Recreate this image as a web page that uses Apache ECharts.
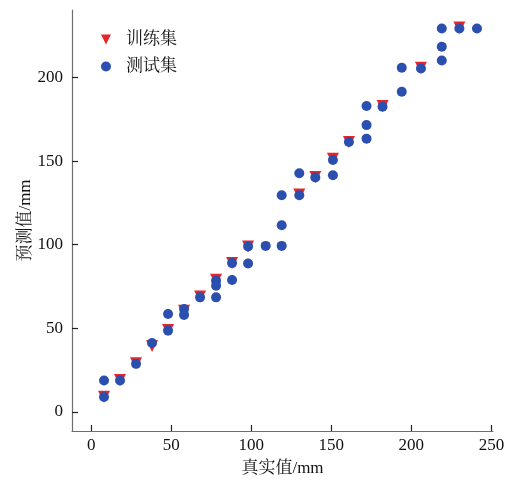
<!DOCTYPE html>
<html>
<head>
<meta charset="utf-8">
<script src="https://cdn.jsdelivr.net/npm/echarts@6/dist/echarts.min.js"></script>
<style>
  html, body { margin: 0; padding: 0; background: #fff; }
  #chart { width: 509px; height: 482px; }
</style>
</head>
<body>
<div id="chart"></div>
<script>
// Series names
const trainName = '训练集';
const testName = '测试集';

// Training set: measured (x) and predicted (y), mm
const trainX = [8, 18, 28, 38, 48, 58, 68, 78, 88, 98, 130, 140, 151, 161, 182, 206, 230];
const trainY = [9, 19, 29, 39.4, 49, 60.5, 69, 79, 89, 99, 130, 140.5, 151.5, 161.5, 183, 206, 230];

// Test set: measured (x) and predicted (y), mm
const testX = [8, 8, 18, 28, 38, 48, 48, 58, 58, 68, 78, 78, 78, 88, 88, 98, 98,
               109, 119, 119, 119, 130, 130, 140, 151, 151, 161, 172, 172, 172,
               182, 194, 194, 206, 219, 219, 219, 230, 241];
const testY = [18.7, 8.8, 18.7, 28.7, 41.2, 48.6, 58.5, 61.5, 58, 68.5, 78.5, 75.5, 68.5, 89, 78.9, 99, 88.8,
               99.3, 99.3, 111.7, 129.6, 129.6, 142.8, 140.2, 141.6, 150.7, 161.5, 163.5, 171.6, 183,
               182.6, 191.6, 205.9, 205.5, 210.3, 218.5, 229.4, 229.4, 229.4];

// Axis tick values
const xTicks = [0, 50, 100, 150, 200, 250];
const yTicks = [0, 50, 100, 150, 200];

const toPairs = (xs, ys) => xs.map((x, i) => [x, ys[i]]);

const serif = '"Liberation Serif", "Times New Roman", "Noto Serif CJK SC", "Noto Sans CJK SC", serif';
const axisColor = '#6f6f6f';
const textColor = '#111';
const red = '#e4252b';
const blue = '#2b4fae';
const downTriangle = 'path://M0,0L2,0L1,2Z';

const chart = echarts.init(document.getElementById('chart'), null, { renderer: 'canvas' });

chart.setOption({
  backgroundColor: '#ffffff',
  animation: false,
  grid: { left: 72, right: 16, top: 10, bottom: 50, containLabel: false },
  legend: {
    orient: 'vertical',
    left: 101,
    top: 31,
    padding: 0,
    itemWidth: 12,
    itemHeight: 10,
    itemGap: 10,
    textStyle: {
      fontFamily: serif,
      fontSize: 17,
      color: textColor,
      padding: [0, 0, 0, 9]
    },
    data: [
      { name: trainName, icon: downTriangle },
      { name: testName, icon: 'circle' }
    ]
  },
  xAxis: {
    type: 'value',
    min: -12,
    max: 251,
    name: '真实值/mm',
    nameLocation: 'middle',
    nameGap: 29,
    nameMoveOverlap: false,
    nameTextStyle: { fontFamily: serif, fontSize: 17, color: textColor },
    axisLine: { show: true, onZero: false, lineStyle: { color: axisColor, width: 1.2 } },
    axisTick: { show: true, inside: true, length: 6, customValues: xTicks, lineStyle: { color: '#222', width: 1.2 } },
    axisLabel: { customValues: xTicks, fontFamily: serif, fontSize: 17, color: textColor, margin: 6 },
    splitLine: { show: false }
  },
  yAxis: {
    type: 'value',
    min: -11.5,
    max: 240.5,
    name: '预测值/mm',
    nameLocation: 'middle',
    nameGap: 38,
    nameMoveOverlap: false,
    nameTextStyle: { fontFamily: serif, fontSize: 17, color: textColor },
    axisLine: { show: true, onZero: false, lineStyle: { color: axisColor, width: 1.2 } },
    axisTick: { show: true, inside: true, length: 6, customValues: yTicks, lineStyle: { color: '#222', width: 1.2 } },
    axisLabel: { customValues: yTicks, fontFamily: serif, fontSize: 17, color: textColor, margin: 9 },
    splitLine: { show: false }
  },
  series: [
    {
      name: trainName,
      type: 'scatter',
      symbol: downTriangle,
      symbolSize: 12,
      itemStyle: { color: red, opacity: 1 },
      data: toPairs(trainX, trainY)
    },
    {
      name: testName,
      type: 'scatter',
      symbol: 'circle',
      symbolSize: 10,
      itemStyle: { color: blue, opacity: 1 },
      data: toPairs(testX, testY)
    }
  ]
});
</script>
</body>
</html>
